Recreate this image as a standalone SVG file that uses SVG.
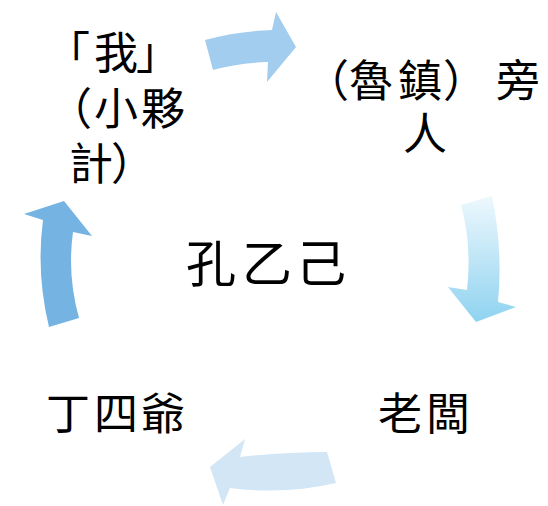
<svg xmlns="http://www.w3.org/2000/svg" width="548" height="506" viewBox="0 0 548 506">
<defs>
<linearGradient id="gRight" x1="0" y1="0" x2="0" y2="1">
<stop offset="0" stop-color="#eef8fd"/>
<stop offset="1" stop-color="#8fd3f0"/>
</linearGradient>
</defs>
<style>
.t{font-family:"Noto Sans CJK TC","Noto Sans CJK SC",sans-serif;fill:#000;text-anchor:middle;}
.s44{font-size:44px;}
.s50{font-size:50px;}
</style>
<rect width="548" height="506" fill="#fff"/>
<g id="connectors">
<path id="arrow-top" d="M205,40 Q238,31 272,30 L276,12 L296,47 L267,82 L268,62 Q238,63 213,70 Z" fill="#a2cdee"/>
<path id="arrow-right" d="M461,205 L492,196 Q503,250 498,302 L516,307 L476,322 L448,287 L467,290 Q472,245 461,205 Z" fill="url(#gRight)"/>
<path id="arrow-bottom" d="M327,452 L336,483 Q285,495 230,488 L223,505 L210,467 L245,439 L240,457 Q285,452 327,452 Z" fill="#d2e6f5"/>
<path id="arrow-left" d="M49,327 Q36,273 43,220 L24,214 L64,201 L92,236 L73,232 Q67,275 79,318 Z" fill="#74b3e2"/>
</g>
<g id="node-center">
<text class="t s50" x="211 267 321" y="282">孔乙己</text>
</g>
<g id="node-me">
<text class="t s44" x="68 116 158" y="69">「我」</text>
<text class="t s44" x="70 116 163" y="125">（小夥</text>
<text class="t s44" x="91 133" y="180">計）</text>
</g>
<g id="node-bystander">
<text class="t s44" x="327 371 420 465 518" y="97">（魯鎮）旁</text>
<text class="t s44" x="425" y="150">人</text>
</g>
<g id="node-boss">
<text class="t s44" x="400 448" y="430">老闆</text>
</g>
<g id="node-ding">
<text class="t s44" x="68 116 163" y="430">丁四爺</text>
</g>
</svg>
